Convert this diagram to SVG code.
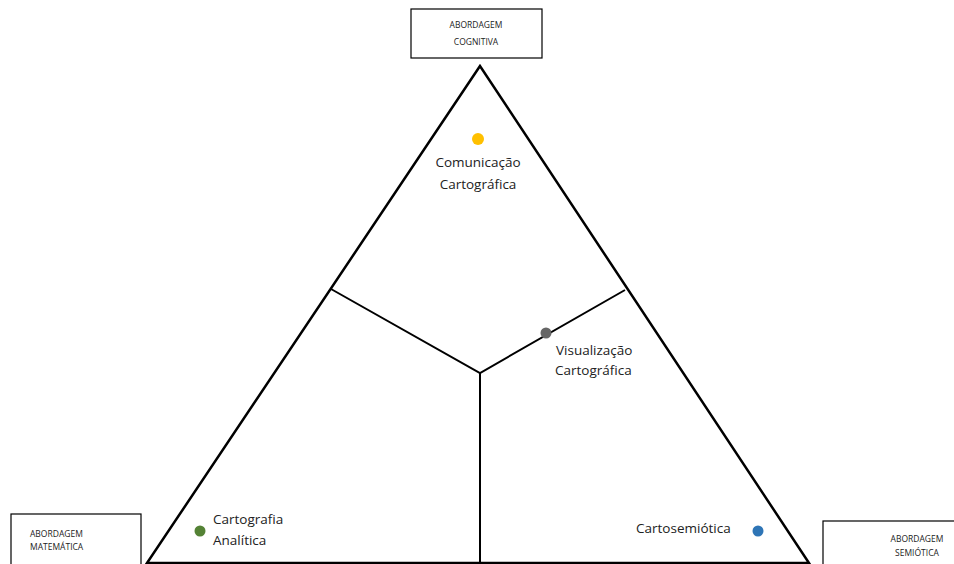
<svg xmlns="http://www.w3.org/2000/svg" width="954" height="564" viewBox="0 0 954 564">
  <style>
    .frame { fill: none; stroke: #000; stroke-width: 2.5; stroke-linejoin: miter; }
    .div { fill: none; stroke: #000; stroke-width: 2; }
    .box { fill: #fff; stroke: #000; stroke-width: 1.2; }
    .small { font-family: "Open Sans", "Noto Sans", "Liberation Sans", sans-serif; font-size: 8.5px; fill: #222; }
    .label { font-family: "Open Sans", "Noto Sans", "Liberation Sans", sans-serif; font-size: 13.5px; fill: #222; }
  </style>
  <rect width="954" height="564" fill="#fff"/>

  <!-- triangle and inner partition lines -->
  <g id="connectors">
    <polygon class="frame" points="480,66 147,563 809,563"/>
    <path class="div" d="M331,289 L480,373 L625,290 M480,373 L480,563"/>
  </g>

  <!-- approach boxes -->
  <g id="cognitiva">
    <rect class="box" x="411" y="9" width="131" height="49"/>
    <text class="small" x="476" y="28" text-anchor="middle">ABORDAGEM</text>
    <text class="small" x="476" y="45" text-anchor="middle">COGNITIVA</text>
  </g>
  <g id="matematica">
    <rect class="box" x="11" y="514" width="130" height="60"/>
    <text class="small" x="30" y="537">ABORDAGEM</text>
    <text class="small" x="30" y="550">MATEMÁTICA</text>
  </g>
  <g id="semiotica">
    <rect class="box" x="823" y="521" width="140" height="60"/>
    <text class="small" x="917" y="542" text-anchor="middle">ABORDAGEM</text>
    <text class="small" x="917" y="556" text-anchor="middle">SEMIÓTICA</text>
  </g>

  <!-- points on the triangle -->
  <g id="comunicacao">
    <circle cx="478" cy="139" r="6" fill="#FFC000"/>
    <text class="label" x="478" y="167" text-anchor="middle">Comunicação</text>
    <text class="label" x="478" y="189" text-anchor="middle">Cartográfica</text>
  </g>
  <g id="visualizacao">
    <circle cx="546" cy="333" r="5.5" fill="#666"/>
    <text class="label" x="556" y="355">Visualização</text>
    <text class="label" x="555" y="375">Cartográfica</text>
  </g>
  <g id="analitica">
    <circle cx="200" cy="531" r="5.5" fill="#548235"/>
    <text class="label" x="213" y="524">Cartografia</text>
    <text class="label" x="213" y="545">Analítica</text>
  </g>
  <g id="cartosemiotica">
    <circle cx="758" cy="531" r="5.5" fill="#2E75B6"/>
    <text class="label" x="636" y="533">Cartosemiótica</text>
  </g>
</svg>
